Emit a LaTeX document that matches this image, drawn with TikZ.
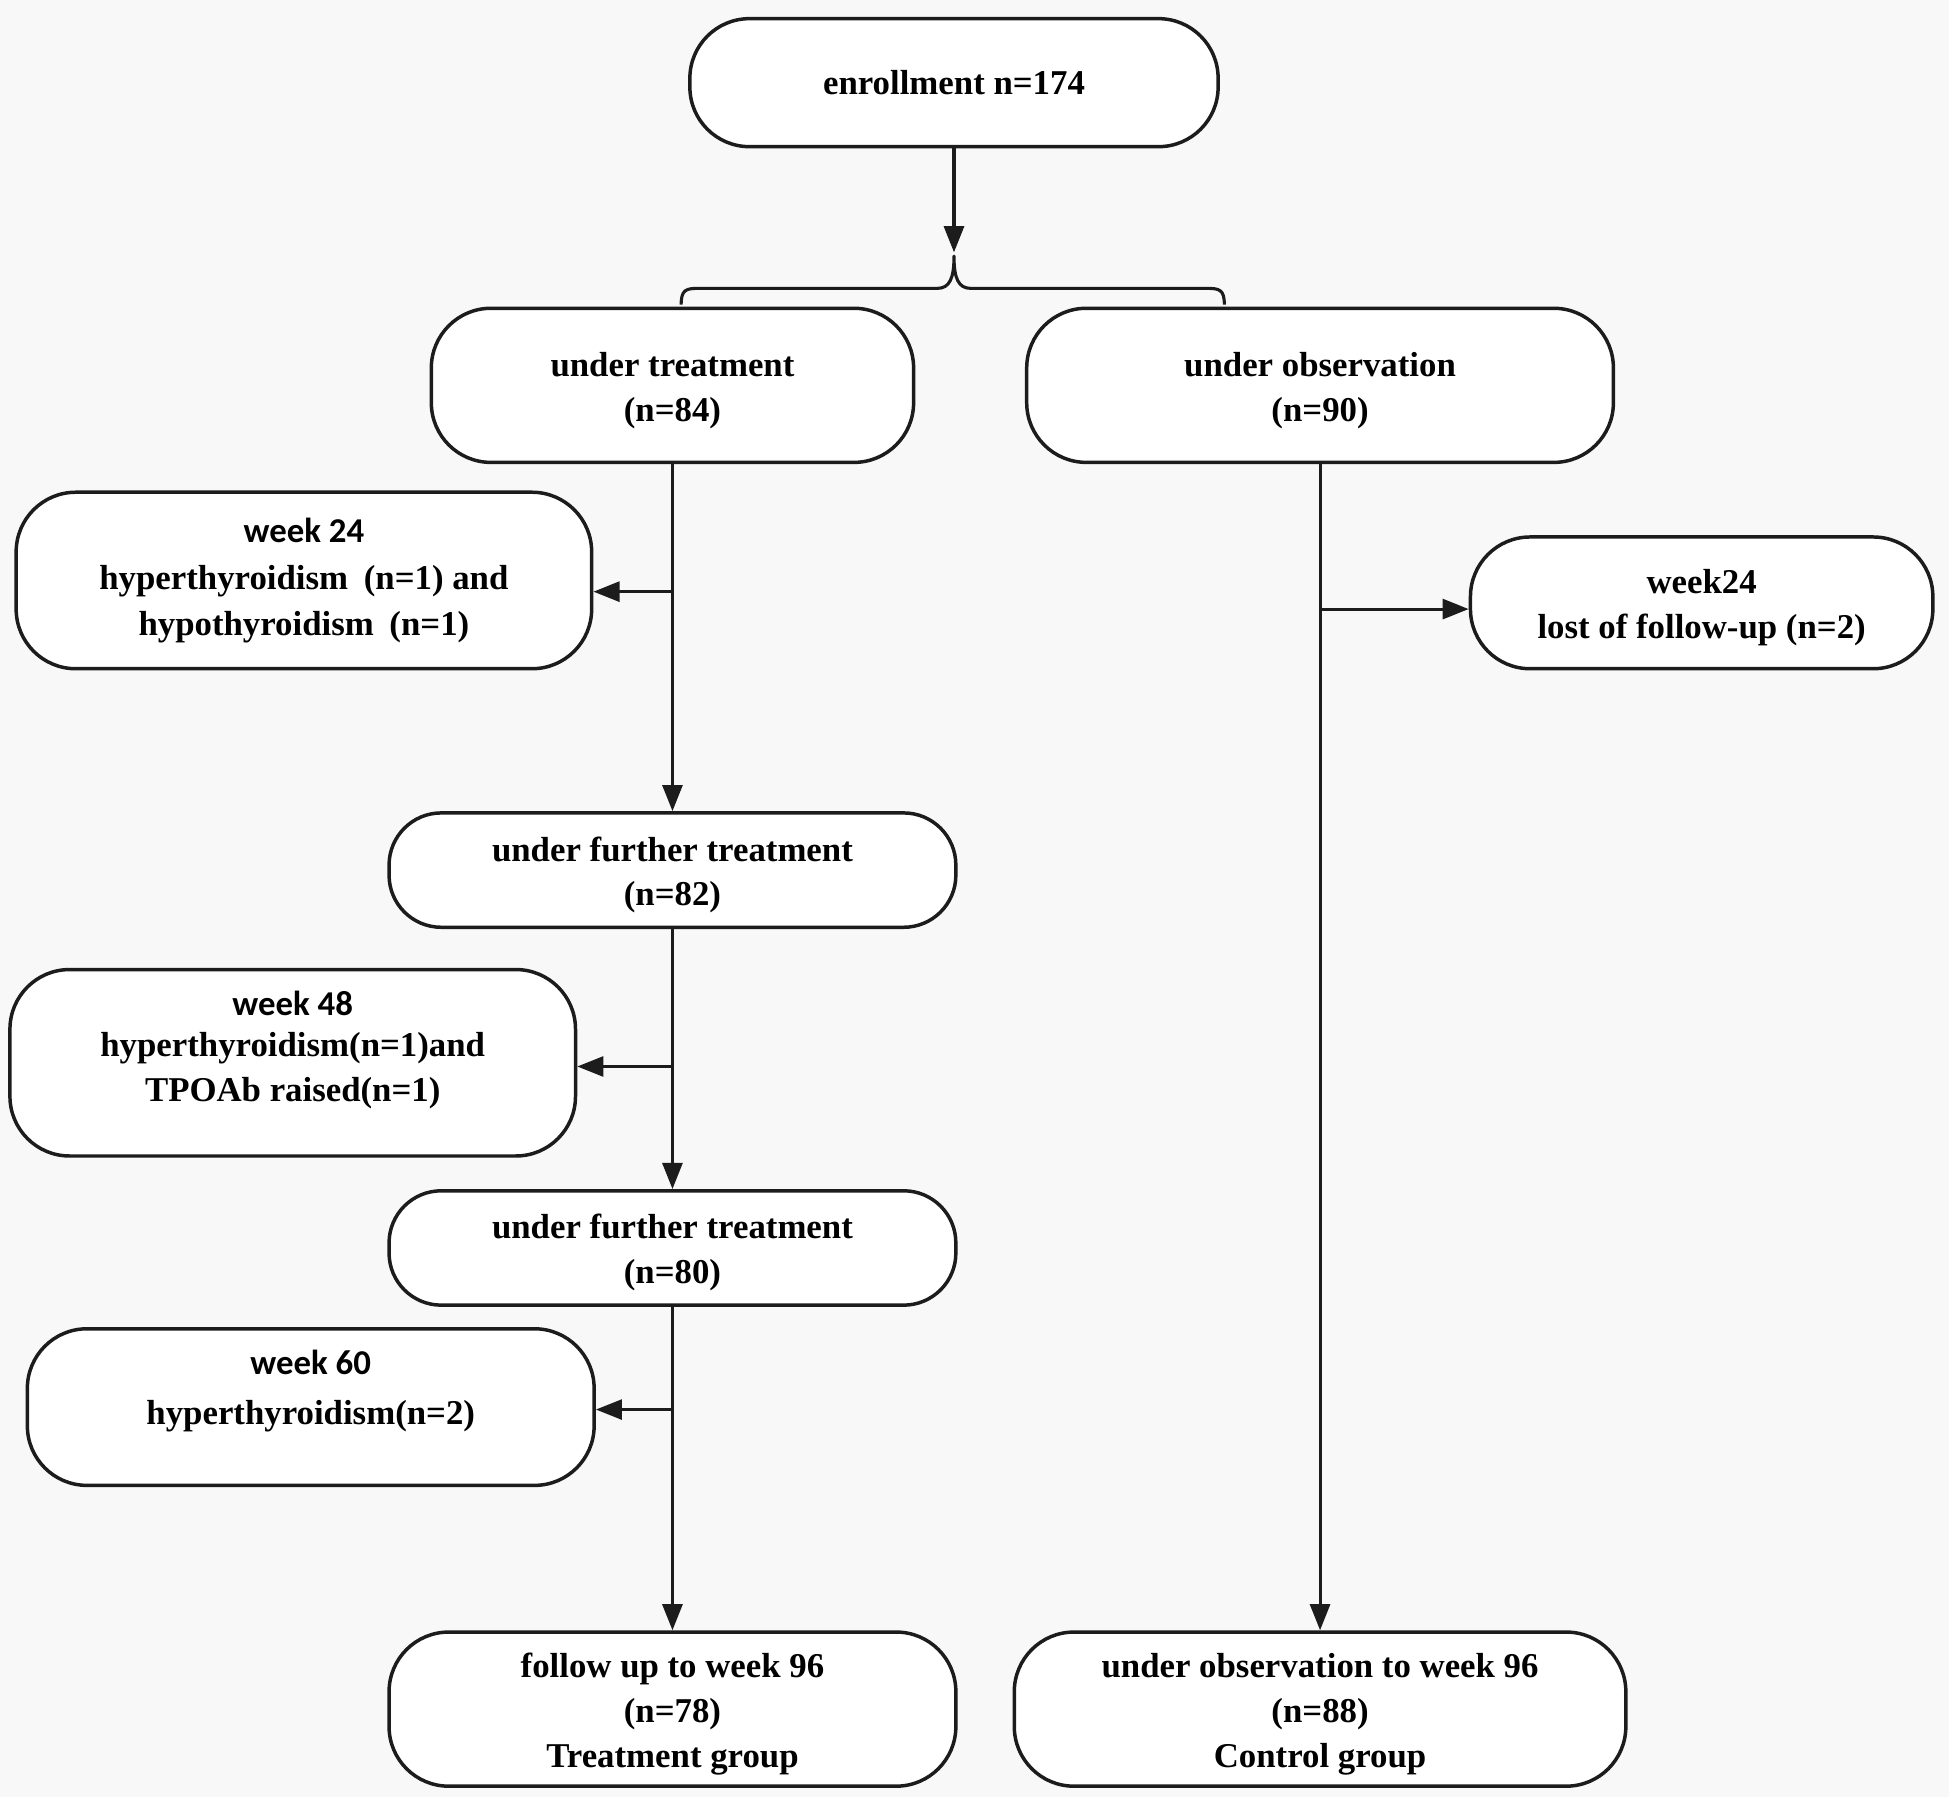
\documentclass[tikz,border=0pt]{standalone}
\usepackage{fontspec}
\setmainfont{Liberation Serif}
\newfontfamily\wkfont{Carlito}
\usetikzlibrary{arrows.meta}
\definecolor{bg}{RGB}{248,248,248}
\definecolor{ln}{RGB}{28,28,28}
\tikzset{
  box/.style={draw=ln, line width=2.8pt, fill=white, rounded corners=48pt, align=center,
    font=\fontsize{28}{36}\selectfont\bfseries, inner sep=0pt},
  lowbox/.style={box, rounded corners=42pt},
  twol/.style={text height=63.5pt, text depth=6pt},
  threel/.style={text height=99.5pt, text depth=6pt},
  conn/.style={draw=ln, line width=2.5pt},
  arr/.style={conn, -{Triangle[length=21pt,width=16pt]}}
}
\newcommand{\wkl}[1]{{\wkfont\bfseries #1}}
\begin{document}
\begin{tikzpicture}[x=1pt,y=-1pt]
\fill[bg] (0,0) rectangle (1568,1446);
\useasboundingbox (0,0) rectangle (1568,1446);

\node[box, minimum width=425pt, minimum height=103pt] (enr) at (767.5,66.5) {enrollment n=174};
\node[box, twol, minimum width=388pt, minimum height=124pt] (trt) at (541,310) {under treatment\\(n=84)};
\node[box, twol, minimum width=472pt, minimum height=124pt] (obs) at (1062,310) {under observation\\(n=90)};
\node[box, minimum width=463pt, minimum height=142pt] (wk24) at (244.5,467) {\wkl{week 24}\\[2pt]hyperthyroidism\hspace{0.45em}(n=1) and\\[1pt]hypothyroidism\hspace{0.45em}(n=1)};
\node[box, twol, minimum width=372pt, minimum height=106pt] (lost) at (1369,485) {week24\\lost of follow-up (n=2)};
\node[lowbox, twol, minimum width=456pt, minimum height=92pt] (ft1) at (541,700) {under further treatment\\(n=82)};
\node[box, minimum width=455pt, minimum height=150pt] (wk48) at (235.5,855) {\wkl{week 48}\\[-3pt]hyperthyroidism(n=1)and\\TPOAb raised(n=1)\\[-10pt]\mbox{}};
\node[lowbox, twol, minimum width=456pt, minimum height=92pt] (ft2) at (541,1004) {under further treatment\\(n=80)};
\node[box, minimum width=456pt, minimum height=126pt] (wk60) at (250,1132) {\wkl{week 60}\\[4pt]hyperthyroidism(n=2)\\[-4pt]\mbox{}};
\node[box, threel, minimum width=456pt, minimum height=124pt] (fu) at (541,1375) {follow up to week 96\\(n=78)\\Treatment group};
\node[box, threel, minimum width=492pt, minimum height=124pt] (ctl) at (1062,1375) {under observation to week 96\\(n=88)\\Control group};

% top split
\coordinate (tip) at (767.5,203);
\coordinate (bl) at (548,245);
\coordinate (br) at (985,245);
\draw[arr] (enr.south) -- (tip);
\draw[conn, line join=round]
  (bl) .. controls (548,233) and (552,232) .. (562,232) -- (754,232)
  .. controls (764,232) and (767.5,224) .. (767.5,206)
  .. controls (767.5,224) and (771,232) .. (781,232) -- (971,232)
  .. controls (981,232) and (985,233) .. (br);

% left column
\coordinate (b1) at (541,476);
\coordinate (b2) at (541,858);
\coordinate (b3) at (541,1134);
\draw[arr] (trt.south) -- (ft1.north);
\draw[arr] (b1) -- (b1 -| wk24.east);
\draw[arr] (ft1.south) -- (ft2.north);
\draw[arr] (b2) -- (b2 -| wk48.east);
\draw[arr] (ft2.south) -- (fu.north);
\draw[arr] (b3) -- (b3 -| wk60.east);

% right column
\coordinate (b4) at (1062,490);
\draw[arr] (obs.south) -- (ctl.north);
\draw[arr] (b4) -- (b4 -| lost.west);
\end{tikzpicture}
\end{document}
